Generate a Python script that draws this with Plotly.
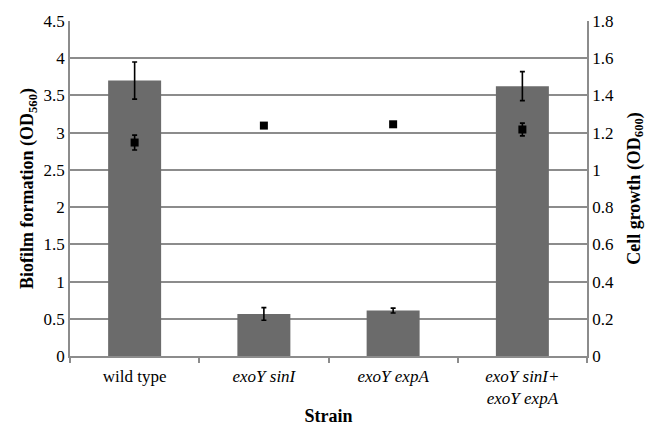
import plotly.graph_objects as go

strains = ["wild type", "<i>exoY sinI</i>", "<i>exoY expA</i>", "<i>exoY sinI+</i><br><i>exoY expA</i>"]
biofilm = [3.70, 0.565, 0.61, 3.625]
biofilm_err = [0.25, 0.085, 0.033, 0.195]
growth = [1.147, 1.238, 1.245, 1.217]
growth_err = [0.04, 0.01, 0.01, 0.034]

font_family = "Liberation Serif, Times New Roman, serif"
grid_col = "#8c8c8c"

fig = go.Figure()
fig.add_trace(go.Bar(
    x=strains, y=biofilm,
    marker=dict(color="#6b6b6b", line=dict(width=0)),
    error_y=dict(type="data", array=biofilm_err, color="black", thickness=1.6, width=2.5),
    showlegend=False,
))
fig.add_trace(go.Scatter(
    x=strains, y=growth, yaxis="y2", mode="markers",
    marker=dict(symbol="square", size=8, color="black"),
    error_y=dict(type="data", array=growth_err, color="black", thickness=1.6, width=2.5),
    showlegend=False,
))

fig.update_layout(
    width=655, height=428,
    margin=dict(l=62, r=76, t=13, b=80),
    paper_bgcolor="white", plot_bgcolor="white",
    font=dict(family=font_family, size=17, color="black"),
    bargap=0.59,
    xaxis=dict(
        showline=True, linecolor=grid_col, linewidth=1.5,
        ticks="outside", tickson="boundaries", ticklen=5, tickcolor=grid_col, tickwidth=1.5,
        ticklabelstandoff=4,
        tickfont=dict(family=font_family, size=17), automargin=False,
        title=dict(text="<b>Strain</b>", font=dict(family=font_family, size=18), standoff=2),
    ),
    yaxis=dict(
        range=[0, 4.5], dtick=0.5, showgrid=True, gridcolor=grid_col, gridwidth=1.5,
        showline=True, linecolor=grid_col, linewidth=1.5, zeroline=False,
        ticks="", tickfont=dict(family=font_family, size=17), automargin=False,
        title=dict(text="<b>Biofilm formation (OD<sub>560</sub>)</b>", font=dict(family=font_family, size=18), standoff=5),
    ),
    yaxis2=dict(
        range=[0, 1.8], dtick=0.2, overlaying="y", side="right",
        showgrid=False, showline=True, linecolor=grid_col, linewidth=1.5, zeroline=False,
        ticks="", tickfont=dict(family=font_family, size=17), automargin=False,
        title=dict(text="<b>Cell growth (OD<sub>600</sub>)</b>", font=dict(family=font_family, size=18), standoff=14),
    ),
)

fig.write_html("out.html")
